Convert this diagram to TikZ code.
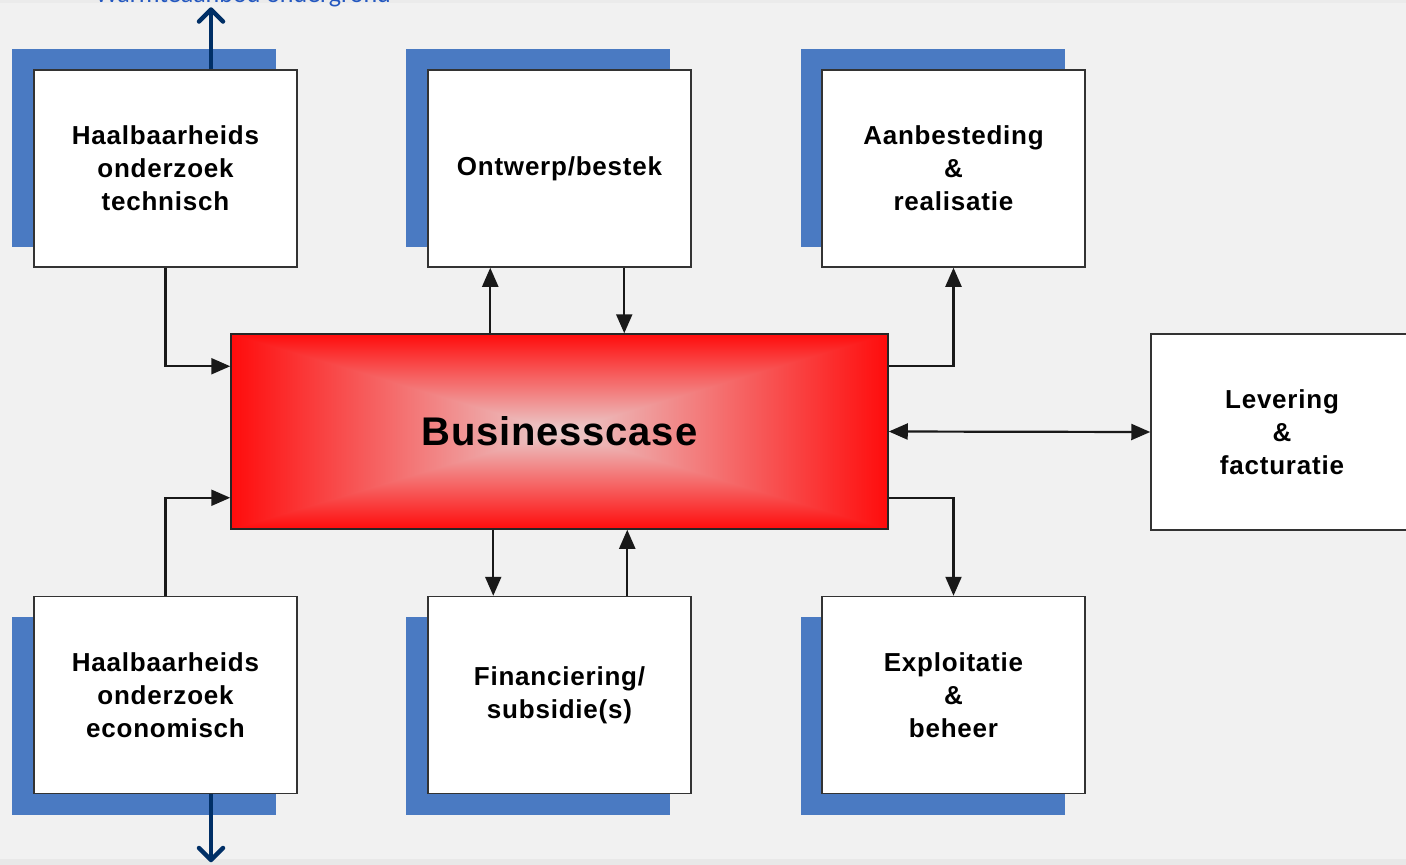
\documentclass[tikz,border=0pt]{standalone}
\usepackage{fontspec}
\setmainfont{Liberation Sans}
\newfontfamily\lblfont{Carlito}
\usetikzlibrary{arrows.meta,calc}
\definecolor{bg}{HTML}{F1F1F1}
\definecolor{shad}{HTML}{4A7AC2}
\definecolor{navy}{HTML}{002F66}
\definecolor{lblblue}{HTML}{2458C0}
\definecolor{bcred}{RGB}{255,12,12}
\definecolor{bcmid}{RGB}{243,92,92}
\definecolor{bcctr}{RGB}{234,206,206}
\definecolor{edge}{HTML}{333333}
\tikzset{
  shadowbox/.style={fill=shad, minimum width=264, minimum height=198, inner sep=0},
  whitebox/.style={draw=edge, line width=1.5pt, fill=white, minimum width=263, minimum height=197, inner sep=0, align=center,
    font=\addfontfeatures{LetterSpace=3}\bfseries\fontsize{26}{33}\selectfont},
  conn/.style={draw=black!90, line width=2.2pt, -{Triangle[length=19pt,width=16pt]}},
  dconn/.style={draw=black!90, line width=2.2pt, {Triangle[length=19pt,width=16pt]}-{Triangle[length=19pt,width=16pt]}},
  navyarr/.style={draw=navy, line width=4.5pt, -{Straight Barb[length=12pt,width=24pt,line cap=round,line join=round]}}
}
\begin{document}
\begin{tikzpicture}[x=1pt,y=-1pt]
\useasboundingbox (0,0) rectangle (1406,865);
\clip (0,0) rectangle (1406,865);
\fill[bg] (0,0) rectangle (1406,865);
\fill[black!8] (0,0) rectangle (1406,3);
\fill[black!9] (0,859) rectangle (1406,865);

% top label (cut off at the top edge, as in the reference)
\node[anchor=base, inner sep=0, text=lblblue, font=\lblfont\fontsize{26}{30}\selectfont] (wlabel) at (243,2.5) {Warmteaanbod ondergrond};

% shadows
\node[shadowbox] (s1) at (144,148) {};
\node[shadowbox] (s2) at (538,148) {};
\node[shadowbox] (s3) at (933,148) {};
\node[shadowbox] (s4) at (144,716) {};
\node[shadowbox] (s5) at (538,716) {};
\node[shadowbox] (s6) at (933,716) {};

% boxes
\node[whitebox] (b1) at (165.5,168.5) {Haalbaarheids\\onderzoek\\technisch};
\node[whitebox] (b2) at (559.5,168.5) {Ontwerp/bestek};
\node[whitebox] (b3) at (953.5,168.5) {Aanbesteding\\\&\\realisatie};
\node[whitebox] (b4) at (165.5,695) {Haalbaarheids\\onderzoek\\economisch};
\node[whitebox] (b5) at (559.5,695) {Financiering/\\subsidie(s)};
\node[whitebox] (b6) at (953.5,695) {Exploitatie\\\&\\beheer};
\node[whitebox, minimum width=262, minimum height=196] (lev) at (1282,432) {Levering\\\&\\facturatie};

% businesscase gradient
\shade[left color=bcred, middle color=bcmid, right color=bcctr] (231,334) rectangle (559.5,529);
\shade[left color=bcctr, middle color=bcmid, right color=bcred] (559.5,334) rectangle (888,529);
\begin{scope}
\clip (231,334) -- (888,334) -- (559.5,431.5) -- cycle;
\shade[top color=bcred, middle color=bcmid, bottom color=bcctr] (231,334) rectangle (888,431.5);
\end{scope}
\begin{scope}
\clip (231,529) -- (888,529) -- (559.5,431.5) -- cycle;
\shade[top color=bcctr, middle color=bcmid, bottom color=bcred] (231,431.5) rectangle (888,529);
\end{scope}
\node[draw=black!85, line width=1.5pt, minimum width=657, minimum height=195, inner sep=0,
  font=\addfontfeatures{LetterSpace=2}\bfseries\fontsize{40}{48}\selectfont] (bc) at (559.5,431.5) {Businesscase};

% named anchor points on the businesscase
\coordinate (bcL1) at ($(bc.north west)+(0,33)$);
\coordinate (bcL2) at ($(bc.south west)+(0,-32)$);
\coordinate (bcR1) at ($(bc.north east)+(0,33)$);
\coordinate (bcR2) at ($(bc.south east)+(0,-32)$);
\coordinate (topA) at ($(b1.north)+(45.5,-62)$);
\coordinate (botA) at ($(b4.south)+(45.5,68)$);

% connectors
\draw[conn] (b1.south) |- (bcL1);
\draw[conn] (b4.north) |- (bcL2);
\draw[conn] ($(bc.north west)+(260,0)$) -- ($(b2.south west)+(63,0)$);
\draw[conn] ($(b2.south west)+(197,0)$) -- ($(bc.north west)+(394,0)$);
\draw[conn] ($(bc.south west)+(263,0)$) -- ($(b5.north west)+(66,0)$);
\draw[conn] ($(b5.north west)+(200,0)$) -- ($(bc.south west)+(397,0)$);
\draw[conn] (bcR1) -| (b3.south);
\draw[conn] (bcR2) -| (b6.north);
\draw[dconn] (bc.east) -- (lev.west);

% navy arrows
\draw[navyarr] ($(b1.north)+(45.5,0)$) -- (topA);
\draw[navyarr] ($(b4.south)+(45.5,0)$) -- (botA);
\end{tikzpicture}
\end{document}
